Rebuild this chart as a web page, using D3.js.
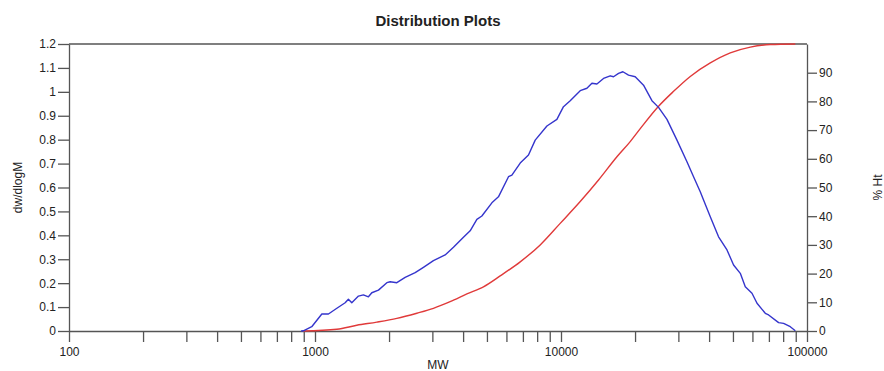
<!DOCTYPE html>
<html>
<head>
<meta charset="utf-8">
<script src="https://cdn.jsdelivr.net/npm/d3@7"></script>
<style>
  html, body { margin: 0; padding: 0; background: #fff; }
  svg { display: block; font-family: "Liberation Sans", Arial, sans-serif; }
  .axis text { font-size: 12px; fill: #222; }
  .axis line, .axis path { stroke: #555; stroke-width: 1.3; }
</style>
</head>
<body>
<svg id="chart" width="884" height="371"></svg>
<script>
// Molecular weight distribution (dw/dlogM), blue curve
const dwMW = [878, 897, 970, 1066, 1134, 1227, 1326, 1367, 1411, 1502, 1573, 1649, 1702, 1811,
  1959, 2021, 2151, 2325, 2554, 2759, 3030, 3381, 3655, 4013, 4273, 4550, 4768, 5236, 5568,
  6117, 6315, 6826, 7376, 7855, 8765, 9623, 10235, 10900, 11971, 12745, 13356, 13996, 14888,
  15853, 16350, 17133, 17853, 18813, 20031, 21653, 23425, 24922, 26963, 29604, 32509, 34579,
  36822, 37973, 40443, 43701, 47290, 50296, 53560, 56120, 59756, 62629, 67683, 69806, 76666,
  80326, 85509, 89640];
const dwValues = [0, 0.001, 0.018, 0.071, 0.071, 0.095, 0.118, 0.133, 0.118, 0.146, 0.151, 0.143,
  0.160, 0.171, 0.202, 0.206, 0.202, 0.224, 0.244, 0.266, 0.294, 0.318, 0.350, 0.392, 0.419,
  0.467, 0.481, 0.536, 0.561, 0.645, 0.652, 0.702, 0.736, 0.798, 0.857, 0.885, 0.938, 0.963,
  1.005, 1.015, 1.036, 1.033, 1.056, 1.067, 1.063, 1.077, 1.084, 1.070, 1.063, 1.028, 0.963,
  0.935, 0.885, 0.798, 0.708, 0.645, 0.582, 0.548, 0.478, 0.394, 0.339, 0.276, 0.241, 0.185,
  0.158, 0.116, 0.074, 0.067, 0.035, 0.032, 0.018, 0.001];

// Cumulative distribution (% Ht), red curve
const cumMW = [894, 1227, 1479, 1784, 2151, 2594, 3030, 3543, 4143, 4839, 5657, 6826, 8230, 9925,
  11971, 14211, 16879, 19112, 20999, 24922, 28682, 33529, 40443, 48760, 58830, 70918, 89640];
const cumPct = [0, 0.6, 2.0, 3.1, 4.4, 6.2, 7.9, 10.2, 12.9, 15.4, 19.2, 24.1, 30.0, 37.5, 45.1,
  52.6, 60.7, 66.0, 70.5, 78.3, 83.5, 88.7, 93.4, 96.9, 98.9, 99.8, 100];

// Axis ticks
const mwDecades = [100, 1000, 10000, 100000];
const leftTicks = [0, 0.1, 0.2, 0.3, 0.4, 0.5, 0.6, 0.7, 0.8, 0.9, 1, 1.1, 1.2];
const rightTicks = [0, 10, 20, 30, 40, 50, 60, 70, 80, 90];

const chartTitle = "Distribution Plots";
const xTitle = "MW";
const yLeftTitle = "dw/dlogM";
const yRightTitle = "% Ht";

const W = 884, H = 371;
const margin = { top: 44, right: 77, bottom: 40, left: 69 };
const iw = W - margin.left - margin.right;
const ih = H - margin.top - margin.bottom;

const svg = d3.select("#chart");
const g = svg.append("g").attr("transform", `translate(${margin.left},${margin.top})`);

const x = d3.scaleLog().domain([100, 100000]).range([0, iw]);
const yL = d3.scaleLinear().domain([0, 1.2]).range([ih, 0]);
const yR = d3.scaleLinear().domain([0, 100]).range([ih, 0]);

// minor ticks 2..9 within each decade
const xTickVals = [];
mwDecades.forEach((d, i) => {
  xTickVals.push(d);
  if (i < mwDecades.length - 1) for (let k = 2; k <= 9; k++) xTickVals.push(d * k);
});

// top frame line
g.append("line").attr("x1", 0).attr("x2", iw).attr("y1", 0).attr("y2", 0)
  .attr("stroke", "#555").attr("stroke-width", 1.3);

g.append("g").attr("class", "axis").attr("transform", `translate(0,${ih})`)
  .call(d3.axisBottom(x).tickValues(xTickVals).tickSize(11).tickSizeOuter(0).tickPadding(5)
    .tickFormat(d => mwDecades.includes(d) ? String(d) : ""));

g.append("g").attr("class", "axis")
  .call(d3.axisLeft(yL).tickValues(leftTicks).tickSize(11).tickSizeOuter(0).tickPadding(2)
    .tickFormat(d => String(+d.toFixed(1))));

g.append("g").attr("class", "axis").attr("transform", `translate(${iw},0)`)
  .call(d3.axisRight(yR).tickValues(rightTicks).tickSize(10).tickSizeOuter(0).tickPadding(2)
    .tickFormat(d3.format("d")));

const lineDw = d3.line().x((d, i) => x(dwMW[i])).y(d => yL(d));
const lineCum = d3.line().x((d, i) => x(cumMW[i])).y(d => yR(d)).curve(d3.curveMonotoneX);

g.append("path").datum(cumPct).attr("d", lineCum)
  .attr("fill", "none").attr("stroke", "#e03a3a").attr("stroke-width", 1.4);
g.append("path").datum(dwValues).attr("d", lineDw)
  .attr("fill", "none").attr("stroke", "#3535cc").attr("stroke-width", 1.4)
  .attr("stroke-linejoin", "round");

svg.append("text").attr("x", margin.left + iw / 2).attr("y", 26)
  .attr("text-anchor", "middle").attr("font-size", 15).attr("font-weight", "bold")
  .attr("fill", "#222").text(chartTitle);

svg.append("text").attr("x", margin.left + iw / 2).attr("y", 369)
  .attr("text-anchor", "middle").attr("font-size", 12).attr("fill", "#222").text(xTitle);

svg.append("text").attr("transform", `translate(22,${margin.top + ih / 2}) rotate(-90)`)
  .attr("text-anchor", "middle").attr("font-size", 12).attr("fill", "#222").text(yLeftTitle);

svg.append("text").attr("transform", `translate(882,${margin.top + ih / 2}) rotate(-90)`)
  .attr("text-anchor", "middle").attr("font-size", 12).attr("fill", "#222").text(yRightTitle);
</script>
</body>
</html>
